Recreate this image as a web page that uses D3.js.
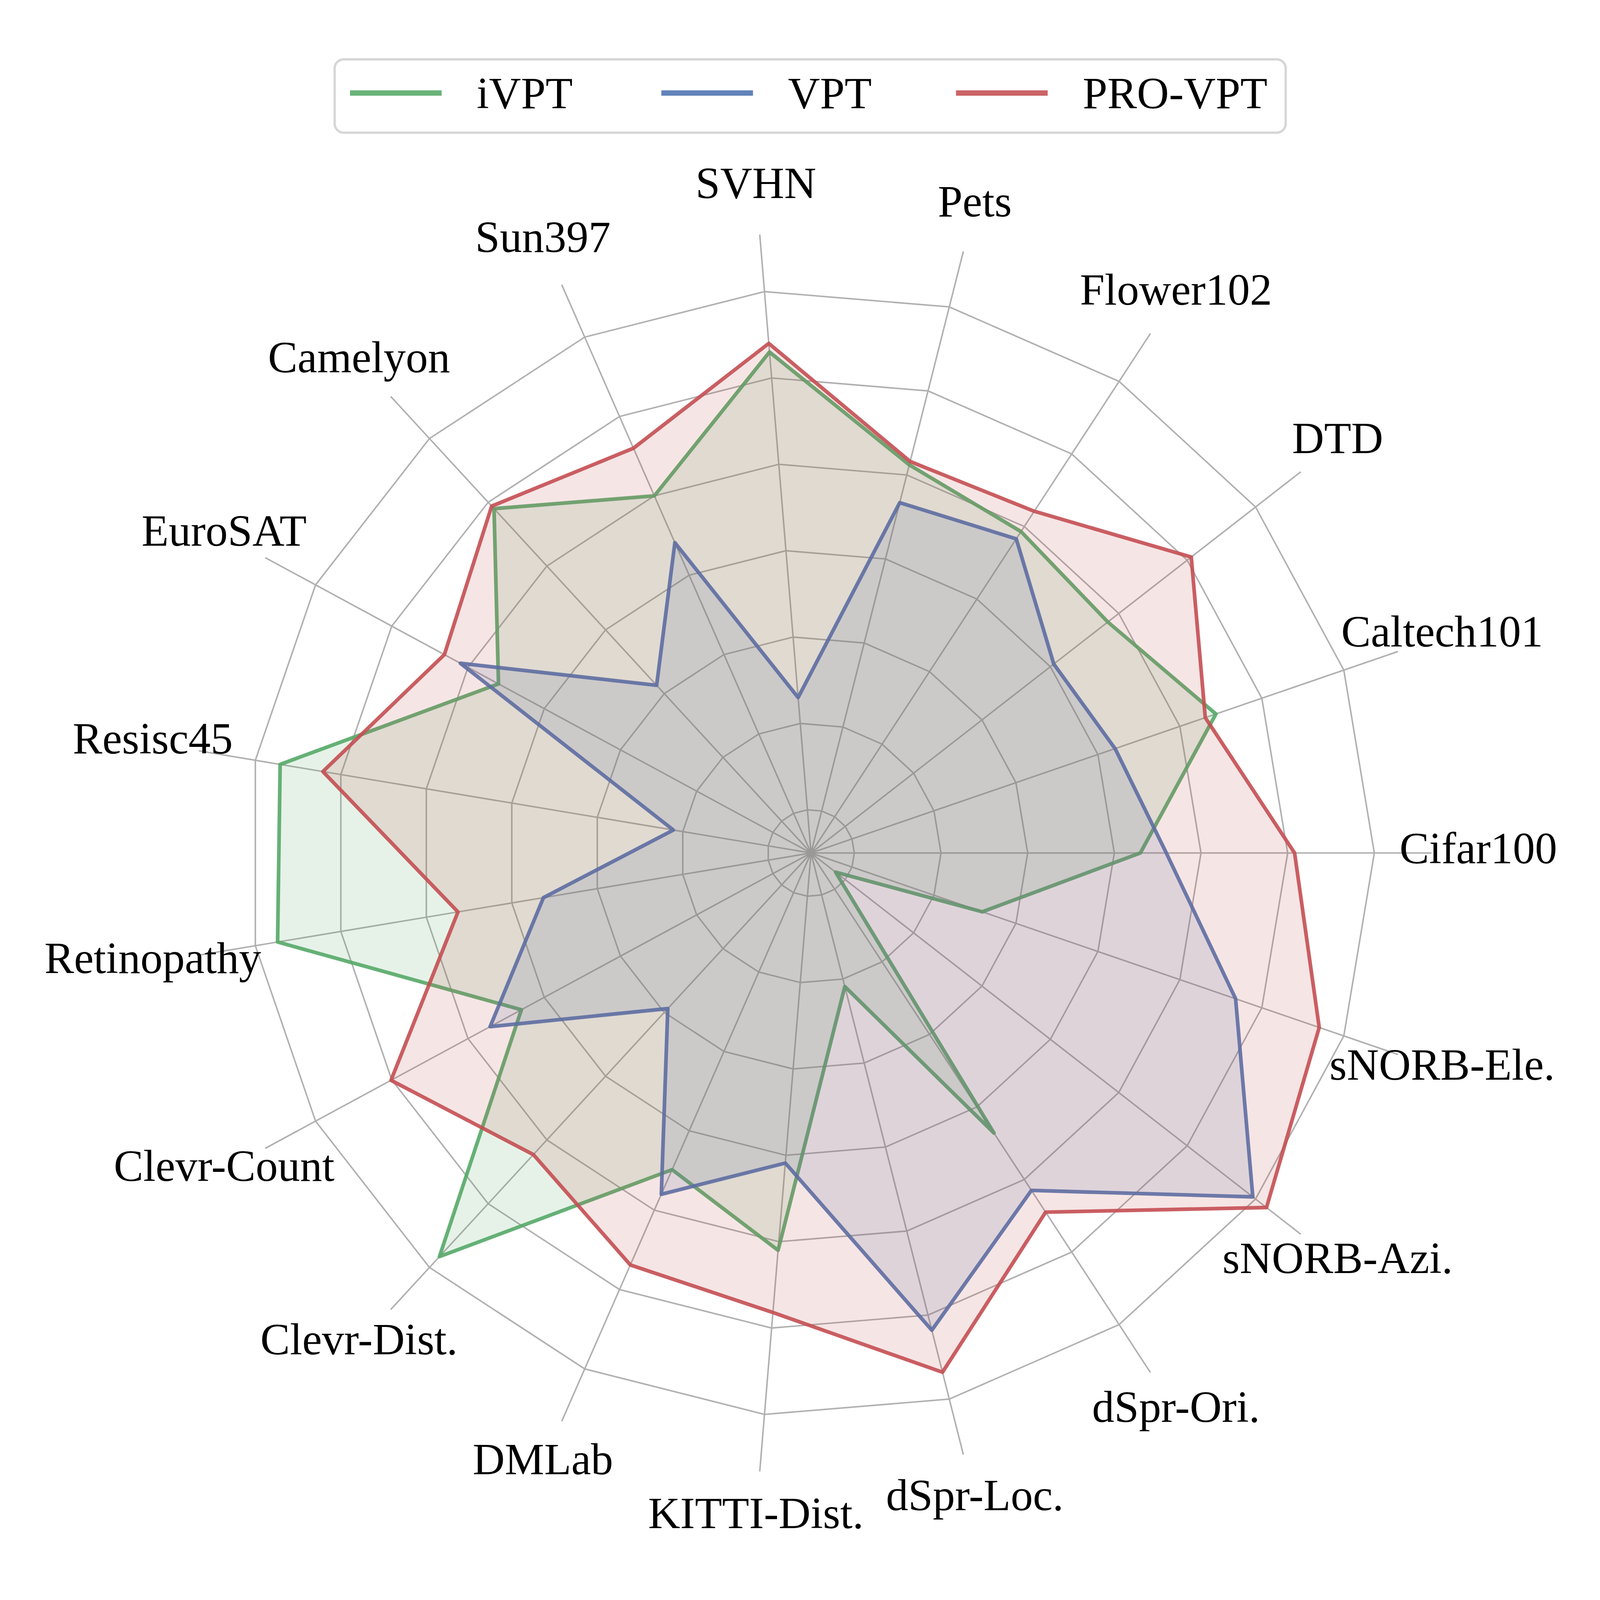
<!DOCTYPE html>
<html>
<head>
<meta charset="utf-8">
<script src="https://cdn.jsdelivr.net/npm/d3@7"></script>
<style>
  html, body { margin: 0; padding: 0; background: #fff; overflow: hidden; }
  svg { display: block; width: 100vw; height: 100vh; }
  text { font-family: "Liberation Serif", "Times New Roman", serif; }
</style>
</head>
<body>
<div id="chart"></div>
<script>
var W = 4800, H = 4800;
var cx = 2433, cy = 2559;

// VTAB-1k tasks, counter-clockwise from the right
var categories = ["Cifar100", "Caltech101", "DTD", "Flower102", "Pets", "SVHN", "Sun397",
	"Camelyon", "EuroSAT", "Resisc45", "Retinopathy", "Clevr-Count", "Clevr-Dist.",
	"DMLab", "KITTI-Dist.", "dSpr-Loc.", "dSpr-Ori.", "sNORB-Azi.", "sNORB-Ele."];

// normalised scores (radial units)
var ivpt   = [3.80, 4.94, 4.34, 4.43, 4.62, 5.80, 4.50, 5.40, 4.10, 6.21, 6.24, 3.80, 6.33, 3.99, 4.60, 1.59, 3.86, 0.36, 2.09];
var vpt    = [4.10, 3.71, 3.55, 4.33, 4.17, 1.80, 3.91, 2.63, 4.60, 1.61, 3.13, 4.21, 2.44, 4.30, 3.59, 5.68, 4.65, 6.46, 5.18];
var proVpt = [5.58, 4.81, 5.56, 4.71, 4.66, 5.90, 5.10, 5.44, 4.81, 5.71, 4.13, 5.51, 4.73, 5.19, 5.32, 6.18, 4.95, 6.66, 6.20];

var seriesNames = ["iVPT", "VPT", "PRO-VPT"];
var seriesColors = ["#55A868", "#4C72B0", "#C44E52"];
var ringLevels = [0.5, 1.5, 2.5, 3.5, 4.5, 5.5, 6.5];
var rMax = 7.16;
var labelR = 7.7;

var n = categories.length;
var r = d3.scaleLinear().domain([0, 7]).range([0, 1820]);
// d3 radial angle: clockwise from 12 o'clock
var angle = d3.scaleLinear().domain([0, n]).range([Math.PI / 2, Math.PI / 2 - 2 * Math.PI]);

var svg = d3.select("#chart")
	.append("svg")
	.attr("viewBox", "0 0 " + W + " " + H)
	.attr("preserveAspectRatio", "xMidYMid meet");

svg.append("rect").attr("width", W).attr("height", H).attr("fill", "#fff");

var g = svg.append("g").attr("transform", "translate(" + cx + "," + cy + ")");

// grid rings (polygons)
var ringLine = d3.lineRadial()
	.angle(function(d, i) { return angle(i); })
	.radius(function(d) { return r(d); })
	.curve(d3.curveLinearClosed);

g.selectAll(".ring")
	.data(ringLevels)
	.enter().append("path")
	.attr("class", "ring")
	.attr("d", function(lv) { return ringLine(categories.map(function() { return lv; })); })
	.attr("fill", "none")
	.attr("stroke", "#b0b0b0")
	.attr("stroke-width", 4.5);

// spokes
g.selectAll(".spoke")
	.data(categories)
	.enter().append("line")
	.attr("class", "spoke")
	.attr("x1", 0).attr("y1", 0)
	.attr("x2", function(d, i) { return r(rMax) * Math.sin(angle(i)); })
	.attr("y2", function(d, i) { return -r(rMax) * Math.cos(angle(i)); })
	.attr("stroke", "#b0b0b0")
	.attr("stroke-width", 4.5);

// series
var series = [ivpt, vpt, proVpt];
series.forEach(function(vals, k) {
	g.append("path")
		.attr("d", ringLine(vals))
		.attr("fill", seriesColors[k])
		.attr("fill-opacity", 0.15)
		.attr("stroke", "none");
	g.append("path")
		.attr("d", ringLine(vals))
		.attr("fill", "none")
		.attr("stroke", seriesColors[k])
		.attr("stroke-opacity", 0.9)
		.attr("stroke-width", 11)
		.attr("stroke-linejoin", "round");
});

// category labels
g.selectAll(".lbl")
	.data(categories)
	.enter().append("text")
	.attr("class", "lbl")
	.attr("x", function(d, i) { return r(labelR) * Math.sin(angle(i)); })
	.attr("y", function(d, i) { return -r(labelR) * Math.cos(angle(i)); })
	.attr("dy", "0.23em")
	.attr("text-anchor", "middle")
	.attr("font-size", 133)
	.attr("fill", "#000")
	.text(function(d) { return d; });

// legend
var legend = svg.append("g").attr("class", "legend");
legend.append("rect")
	.attr("x", 1004).attr("y", 178)
	.attr("width", 2853).attr("height", 220)
	.attr("rx", 27).attr("ry", 27)
	.attr("fill", "#fff")
	.attr("stroke", "#d6d6d6")
	.attr("stroke-width", 7);

var legX = [1050, 1984, 2868];
seriesNames.forEach(function(name, k) {
	legend.append("line")
		.attr("x1", legX[k]).attr("x2", legX[k] + 275)
		.attr("y1", 279).attr("y2", 279)
		.attr("stroke", seriesColors[k])
		.attr("stroke-opacity", 0.88)
		.attr("stroke-width", 16);
	legend.append("text")
		.attr("x", legX[k] + 380)
		.attr("y", 325)
		.attr("font-size", 133)
		.attr("fill", "#000")
		.text(name);
});
</script>
</body>
</html>
